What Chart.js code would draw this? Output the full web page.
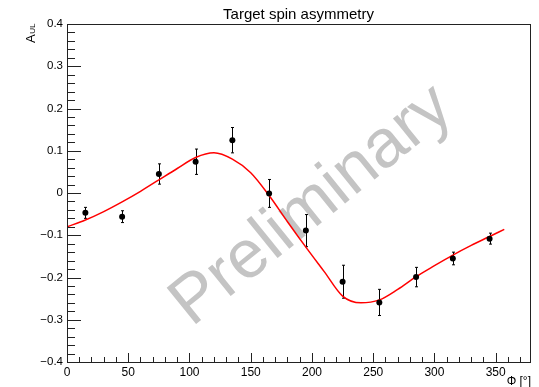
<!DOCTYPE html>
<html>
<head>
<meta charset="utf-8">
<script src="https://cdn.jsdelivr.net/npm/chart.js@4.4.1/dist/chart.umd.min.js"></script>
<style>
    html, body { margin: 0; padding: 0; background: #fff; }
</style>
</head>
<body>
<canvas id="asymChart" width="539" height="387"></canvas>
<script>
// measured asymmetry per azimuthal bin
const phiBins = [15, 45, 75, 105, 135, 165, 195, 225, 255, 285, 315, 345];
const aUL = [-0.047, -0.056, 0.045, 0.074, 0.125, -0.001, -0.089, -0.210, -0.259, -0.199, -0.155, -0.108];
const aErr = [0.013, 0.014, 0.024, 0.030, 0.030, 0.033, 0.038, 0.039, 0.031, 0.023, 0.015, 0.013];

// fit curve, sampled along phi
const fitPhi = [0, 15, 30, 45, 60, 75, 90, 105, 120, 135, 150, 165, 180, 195, 210, 225, 240, 255, 270, 285, 300, 315, 330, 345, 357];
const fitA = [-0.080, -0.064, -0.044, -0.021, 0.004, 0.031, 0.058, 0.084, 0.095, 0.080, 0.048, -0.006, -0.068, -0.128, -0.186, -0.244, -0.260, -0.253, -0.228, -0.198, -0.172, -0.147, -0.124, -0.103, -0.086];

const xTicks = [0, 50, 100, 150, 200, 250, 300, 350];
const yTicks = [-0.4, -0.3, -0.2, -0.1, 0, 0.1, 0.2, 0.3, 0.4];

const FONT = '"Liberation Sans", Arial, Helvetica, sans-serif';

const fmtTick = (v) => {
    const s = Math.abs(v) < 1e-9 ? '0' : String(Math.round(v * 10) / 10);
    return s.replace('-', '\u2212');
};

// ROOT-like frame, inner ticks, watermark and error bars
const rootStyle = {
    id: 'rootStyle',
    beforeDatasetsDraw(chart) {
        const { ctx, chartArea: a, scales: { x, y } } = chart;

        ctx.save();
        ctx.beginPath();
        ctx.rect(a.left, a.top, a.right - a.left, a.bottom - a.top);
        ctx.clip();
        ctx.translate(312, 206);
        ctx.rotate(-39 * Math.PI / 180);
        ctx.font = '68px ' + FONT;
        ctx.fillStyle = '#c4c4c4';
        ctx.textAlign = 'center';
        ctx.textBaseline = 'middle';
        ctx.fillText('Preliminary', 0, 0);
        ctx.restore();

        ctx.save();
        ctx.strokeStyle = '#000';
        ctx.lineWidth = 1;
        phiBins.forEach((p, i) => {
            const px = Math.round(x.getPixelForValue(p)) + 0.5;
            const top = y.getPixelForValue(aUL[i] + aErr[i]);
            const bot = y.getPixelForValue(aUL[i] - aErr[i]);
            ctx.beginPath();
            ctx.moveTo(px, top);
            ctx.lineTo(px, bot);
            ctx.moveTo(px - 1.5, top);
            ctx.lineTo(px + 1.5, top);
            ctx.moveTo(px - 1.5, bot);
            ctx.lineTo(px + 1.5, bot);
            ctx.stroke();
        });
        ctx.restore();
    },
    afterDraw(chart) {
        const { ctx, chartArea: a, scales: { x, y } } = chart;
        ctx.save();
        ctx.strokeStyle = '#222';
        ctx.lineWidth = 1;
        ctx.strokeRect(Math.round(a.left) + 0.5, Math.round(a.top) + 0.5,
            Math.round(a.right - a.left), Math.round(a.bottom - a.top));

        ctx.beginPath();
        for (let i = 0; i <= 40; i++) {
            const py = Math.round(y.getPixelForValue(-0.4 + i * 0.02)) + 0.5;
            const len = i % 5 === 0 ? 14 : 8;
            ctx.moveTo(a.left, py);
            ctx.lineTo(a.left + len, py);
        }
        for (let v = 0; v <= 370; v += 10) {
            const px = Math.round(x.getPixelForValue(v)) + 0.5;
            const len = v % 50 === 0 ? 9 : 5;
            ctx.moveTo(px, a.bottom);
            ctx.lineTo(px, a.bottom - len);
        }
        ctx.stroke();

        ctx.fillStyle = '#000';
        ctx.font = '15px ' + FONT;
        ctx.textAlign = 'center';
        ctx.textBaseline = 'alphabetic';
        ctx.fillText('Target spin asymmetry', (a.left + a.right) / 2, 19);

        ctx.font = '12px ' + FONT;
        ctx.textAlign = 'right';
        ctx.fillText('\u03A6 [\u00B0]', 531, 385);

        ctx.translate(35, 43);
        ctx.rotate(-Math.PI / 2);
        ctx.textAlign = 'left';
        ctx.font = '13px ' + FONT;
        ctx.fillText('A', 0, 0);
        const w = ctx.measureText('A').width;
        ctx.font = '8px ' + FONT;
        ctx.fillText('UL', w + 0.5, 0);
        ctx.restore();
    }
};

new Chart(document.getElementById('asymChart'), {
    type: 'line',
    data: {
        datasets: [
            {
                label: 'data',
                data: phiBins.map((p, i) => ({ x: p, y: aUL[i] })),
                showLine: false,
                pointRadius: 3,
                pointBackgroundColor: '#000',
                pointBorderWidth: 0,
                order: 0
            },
            {
                label: 'fit',
                data: fitPhi.map((p, i) => ({ x: p, y: fitA[i] })),
                borderColor: '#f00',
                borderWidth: 1.5,
                pointRadius: 0,
                cubicInterpolationMode: 'monotone',
                fill: false,
                order: 1
            }
        ]
    },
    options: {
        responsive: false,
        animation: false,
        events: [],
        layout: { padding: { top: 24, right: 9, left: 0, bottom: 0 } },
        plugins: { legend: { display: false }, tooltip: { enabled: false } },
        scales: {
            x: {
                type: 'linear',
                min: 0,
                max: 378,
                grid: { display: false, drawTicks: false },
                border: { display: false },
                afterBuildTicks: (s) => { s.ticks = xTicks.map(v => ({ value: v })); },
                afterFit: (s) => { s.height = 25; },
                ticks: {
                    autoSkip: false,
                    maxRotation: 0,
                    padding: 3,
                    color: '#000',
                    font: { family: FONT, size: 12 },
                    callback: fmtTick
                }
            },
            y: {
                min: -0.4,
                max: 0.4,
                grid: { display: false, drawTicks: false },
                border: { display: false },
                afterBuildTicks: (s) => { s.ticks = yTicks.map(v => ({ value: v })); },
                afterFit: (s) => { s.width = 67; },
                ticks: {
                    autoSkip: false,
                    padding: 4,
                    color: '#000',
                    font: { family: FONT, size: 11.5 },
                    callback: fmtTick
                }
            }
        }
    },
    plugins: [rootStyle]
});
</script>
</body>
</html>
